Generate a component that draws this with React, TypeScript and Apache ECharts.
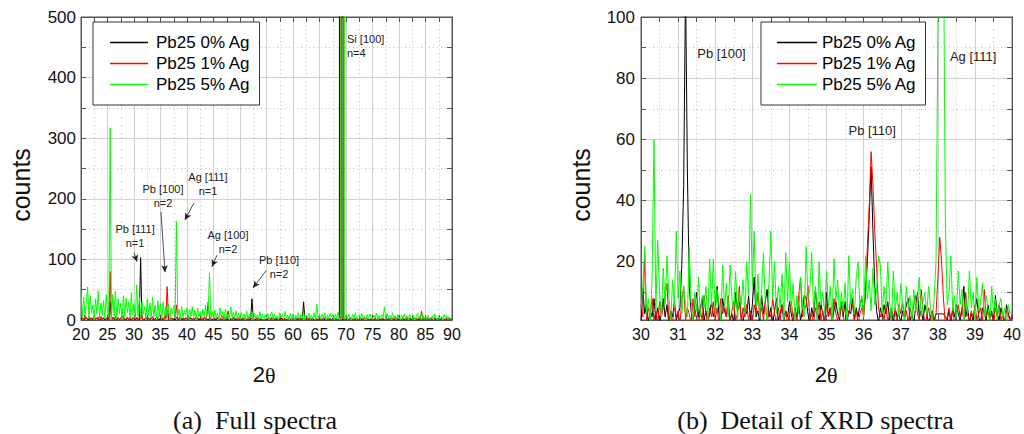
import React, { useEffect, useRef } from 'react';
import * as echarts from 'echarts';

// ---------------- data ----------------
const SERIES_NAMES = ['Pb25 0% Ag', 'Pb25 1% Ag', 'Pb25 5% Ag'];
const SERIES_COLORS = ['#000000', '#ff0000', '#00ff00'];

// Full spectra: 2θ from 20 to 90, one value every 0.25°
const FULL_START = 20;
const FULL_STEP = 0.25;
const full0 = [
  1, 3, 0, 2, 4, 1, 0, 3, 2, 1, 0, 2, 3, 1, 0, 2, 1, 3, 0, 2,
  2, 0, 30, 0, 3, 1, 2, 0, 4, 1, 3, 0, 2, 1, 0, 3, 1, 2, 0, 4,
  2, 0, 3, 1, 0, 103, 2, 1, 0, 3, 1, 2, 0, 4, 1, 0, 2, 3, 1, 0,
  3, 1, 0, 2, 4, 15, 1, 0, 3, 2, 1, 0, 4, 2, 1, 3, 0, 2, 1, 4,
  1, 0, 2, 3, 1, 0, 2, 1, 3, 0, 2, 1, 0, 4, 1, 2, 0, 3, 1, 0,
  2, 1, 0, 3, 1, 2, 0, 1, 3, 0, 2, 1, 0, 2, 1, 3, 0, 1, 2, 0,
  1, 2, 0, 3, 1, 0, 2, 1, 0, 35, 2, 0, 1, 3, 0, 2, 1, 0, 2, 1,
  0, 2, 1, 0, 3, 1, 2, 0, 1, 2, 0, 3, 1, 0, 2, 1, 0, 2, 1, 3,
  1, 0, 2, 1, 3, 0, 2, 1, 30, 0, 2, 1, 0, 3, 1, 2, 0, 1, 2, 0,
  2, 0, 1, 3, 0, 2, 1, 0, 2, 1, 3, 0, 2, 1, 0, 2, 9000, 1, 0, 2,
  1, 2, 0, 3, 1, 0, 2, 1, 3, 0, 1, 2, 0, 1, 3, 0, 2, 1, 0, 2,
  0, 1, 2, 0, 3, 1, 0, 2, 1, 0, 3, 1, 2, 0, 1, 2, 0, 1, 3, 0,
  2, 0, 1, 3, 0, 2, 1, 0, 2, 1, 0, 3, 1, 2, 0, 1, 2, 0, 1, 2,
  1, 0, 2, 1, 3, 0, 1, 2, 0, 1, 2, 0, 3, 1, 0, 2, 1, 4, 0, 2,
  1,
];
const full1 = [
  2, 5, 0, 8, 3, 1, 6, 0, 4, 2, 7, 1, 3, 5, 0, 6, 2, 4, 1, 3,
  4, 0, 80, 0, 5, 2, 6, 1, 3, 0, 4, 2, 7, 0, 3, 5, 1, 4, 0, 2,
  3, 1, 5, 0, 4, 2, 6, 0, 3, 5, 1, 4, 0, 2, 6, 1, 3, 0, 5, 2,
  1, 4, 0, 6, 2, 55, 3, 0, 4, 1, 2, 5, 25, 0, 3, 6, 1, 4, 0, 2,
  3, 0, 5, 2, 1, 4, 0, 6, 2, 3, 1, 5, 0, 4, 2, 7, 30, 3, 1, 2,
  0, 4, 2, 5, 1, 3, 0, 6, 2, 4, 1, 15, 3, 0, 2, 5, 1, 3, 0, 4,
  2, 0, 3, 1, 4, 0, 2, 5, 1, 3, 0, 2, 4, 1, 3, 0, 2, 1, 3, 0,
  1, 3, 0, 2, 4, 1, 0, 3, 2, 1, 4, 0, 2, 3, 1, 0, 2, 4, 1, 2,
  0, 2, 3, 1, 0, 4, 2, 1, 3, 0, 2, 1, 4, 0, 2, 3, 1, 0, 2, 1,
  3, 0, 2, 1, 4, 0, 2, 3, 1, 0, 2, 4, 1, 3, 0, 2, 1, 9000, 0, 3,
  1, 3, 0, 2, 4, 1, 0, 3, 2, 1, 0, 4, 2, 1, 3, 0, 2, 1, 0, 3,
  2, 0, 3, 1, 0, 4, 2, 1, 3, 0, 2, 1, 0, 3, 1, 2, 0, 4, 1, 2,
  7, 1, 0, 3, 2, 1, 4, 0, 2, 3, 1, 0, 2, 4, 1, 3, 0, 15, 1, 3,
  2, 4, 0, 1, 3, 2, 0, 4, 1, 2, 0, 3, 1, 2, 0, 1, 3, 0, 2, 1,
  2,
];
const full5 = [
  45, 3, 38, 8, 30, 55, 2, 40, 12, 25, 0, 35, 10, 48, 4, 28, 8, 32, 2, 42,
  14, 5, 317, 0, 42, 6, 48, 2, 35, 10, 28, 0, 40, 5, 36, 12, 30, 3, 45, 8,
  26, 2, 58, 6, 38, 4, 30, 10, 22, 0, 35, 8, 28, 3, 38, 6, 25, 1, 32, 5,
  28, 2, 30, 7, 22, 4, 26, 0, 20, 10, 24, 3, 163, 6, 18, 2, 22, 5, 16, 8,
  20, 1, 18, 6, 22, 3, 16, 0, 20, 5, 14, 2, 18, 4, 24, 7, 12, 77, 3, 15,
  2, 16, 5, 12, 0, 20, 4, 14, 1, 18, 3, 10, 0, 22, 5, 13, 2, 15, 4, 11,
  1, 12, 3, 10, 0, 15, 2, 9, 4, 13, 0, 11, 3, 8, 1, 14, 2, 10, 0, 9,
  3, 11, 0, 8, 13, 1, 10, 2, 7, 0, 12, 4, 9, 1, 14, 3, 8, 0, 11, 2,
  10, 0, 8, 3, 12, 1, 9, 2, 13, 0, 7, 4, 11, 1, 8, 2, 12, 0, 26, 3,
  9, 1, 10, 3, 12, 0, 8, 2, 11, 4, 9, 0, 10, 2, 13, 1, 6, 9000, 9000, 2,
  8, 1, 10, 3, 0, 9, 2, 12, 0, 6, 8, 1, 11, 3, 7, 0, 9, 2, 10, 4,
  1, 8, 3, 11, 0, 7, 2, 9, 4, 22, 1, 10, 3, 8, 0, 12, 2, 7, 0, 9,
  4, 0, 8, 2, 10, 1, 7, 0, 9, 3, 1, 8, 0, 6, 11, 2, 7, 0, 9, 1,
  6, 0, 8, 2, 1, 7, 0, 10, 3, 0, 8, 1, 6, 0, 9, 2, 7, 0, 5, 1,
  4,
];

// Detail: 2θ from 30 to 40, one value every 0.05°
const DETAIL_START = 30;
const DETAIL_STEP = 0.05;
const detail0 = [
  0, 11, 3, 6, 0, 4, 2, 8, 1, 5, 0, 3, 8, 2, 6, 0, 4, 2, 7, 1,
  3, 5, 19, 45, 110, 50, 12, 4, 0, 6, 10, 2, 5, 8, 1, 4, 0, 3, 7, 2,
  5, 12, 3, 0, 8, 4, 2, 6, 1, 3, 0, 10, 4, 7, 2, 0, 5, 3, 9, 1,
  6, 15, 2, 4, 0, 9, 3, 7, 11, 2, 5, 0, 4, 8, 1, 3, 6, 0, 4, 2,
  7, 3, 0, 5, 2, 6, 1, 4, 9, 8, 3, 0, 5, 2, 11, 4, 1, 6, 3, 0,
  10, 2, 5, 0, 4, 7, 3, 1, 6, 2, 7, 0, 4, 3, 8, 1, 5, 2, 6, 8,
  3, 10, 20, 35, 51, 30, 12, 4, 0, 5, 2, 6, 3, 7, 1, 4, 0, 5, 2, 3,
  0, 4, 2, 6, 8, 1, 3, 0, 5, 10, 2, 4, 1, 6, 3, 0, 2, 4, 1, 3,
  3, 3, 3, 3, 2, 1, 4, 0, 5, 2, 6, 3, 1, 4, 12, 2, 5, 0, 3, 1,
  4, 8, 2, 0, 5, 3, 1, 6, 2, 4, 0, 9, 3, 1, 5, 2, 0, 6, 3, 1,
  2,
];
const detail1 = [
  6, 2, 22, 0, 5, 3, 8, 1, 4, 0, 7, 2, 5, 9, 13, 1, 3, 0, 6, 2,
  4, 0, 7, 12, 1, 5, 3, 0, 8, 2, 6, 0, 4, 1, 9, 3, 0, 5, 2, 7,
  1, 5, 0, 8, 3, 6, 2, 9, 0, 4, 7, 1, 3, 12, 0, 5, 2, 6, 1, 4,
  0, 6, 3, 10, 2, 5, 1, 7, 0, 4, 2, 8, 3, 0, 5, 1, 6, 2, 4, 0,
  3, 7, 1, 5, 0, 9, 15, 2, 4, 6, 12, 1, 3, 0, 5, 2, 7, 1, 4, 0,
  6, 2, 5, 0, 8, 3, 1, 4, 7, 2, 0, 5, 3, 8, 6, 1, 4, 0, 3, 5,
  2, 10, 25, 38, 56, 45, 30, 18, 5, 2, 4, 1, 6, 0, 3, 5, 2, 4, 0, 6,
  3, 7, 1, 4, 0, 5, 2, 6, 9, 3, 1, 11, 4, 0, 2, 5, 1, 3, 0, 3,
  15, 28, 20, 8, 0, 2, 5, 1, 4, 0, 3, 6, 2, 5, 1, 10, 3, 0, 4, 2,
  6, 1, 3, 5, 0, 11, 2, 4, 1, 3, 0, 5, 2, 6, 1, 3, 0, 4, 2, 1,
  3,
];
const detail5 = [
  5, 12, 25, 3, 8, 0, 15, 60, 4, 27, 10, 2, 18, 6, 22, 9, 0, 14, 5, 30,
  8, 17, 3, 12, 6, 2, 25, 7, 0, 10, 4, 15, 2, 9, 5, 12, 0, 21, 6, 21,
  3, 11, 7, 0, 19, 5, 13, 2, 19, 8, 4, 17, 1, 10, 6, 14, 3, 20, 9, 42,
  12, 30, 5, 16, 2, 11, 23, 6, 0, 14, 30, 8, 20, 3, 12, 5, 16, 1, 23, 7,
  20, 4, 13, 0, 9, 3, 15, 6, 2, 25, 8, 11, 23, 4, 12, 0, 20, 6, 10, 3,
  17, 5, 12, 1, 21, 7, 14, 2, 10, 4, 13, 0, 22, 6, 11, 3, 15, 20, 5, 9,
  2, 22, 8, 14, 4, 18, 6, 11, 22, 19, 3, 12, 5, 20, 7, 0, 17, 4, 10, 2,
  13, 6, 1, 12, 5, 9, 0, 11, 4, 8, 15, 2, 7, 10, 3, 12, 5, 0, 8, 20,
  95, 160, 163, 130, 35, 6, 10, 22, 4, 9, 2, 17, 6, 11, 0, 8, 3, 17, 5, 10,
  1, 15, 4, 7, 13, 2, 9, 5, 0, 12, 3, 8, 1, 6, 8, 2, 5, 0, 6, 3,
  4,
];

// axis ranges
const FULL_X = { min: 20, max: 90, interval: 5 };
const FULL_Y = { min: 0, max: 500, interval: 100 };
const DETAIL_X = { min: 30, max: 40, interval: 1 };
const DETAIL_Y = { min: 1, max: 100 };

// peak annotations (data coordinates)
const fullNotes = [
  { name: 'Pb [111]\nn=1', coord: [30.2, 138] },
  { name: 'Pb [100]\nn=2', coord: [35.47, 204] },
  { name: 'Ag [111]\nn=1', coord: [43.96, 224] },
  { name: 'Ag [100]\nn=2', coord: [47.74, 128] },
  { name: 'Pb [110]\nn=2', coord: [57.36, 88] },
];
const siNote = { name: 'Si [100]\nn=4', coord: [70.19, 452] };
const fullArrows = [
  [[30.0, 111], [30.57, 96]],
  [[35.09, 178], [35.85, 79]],
  [[41.3, 193], [39.6, 165]],
  [[45.66, 107], [44.7, 88]],
  [[54.9, 81], [52.45, 53]],
];
const detailNotes = [
  { name: 'Pb [100]', coord: [32.17, 88] },
  { name: 'Pb [110]', coord: [36.23, 63] },
  { name: 'Ag [111]', coord: [38.95, 87] },
];

// ---------------- helpers ----------------
const SANS = '"Liberation Sans", Arial, sans-serif';
const SERIF = '"Liberation Serif", "Times New Roman", serif';

function toPairs(start: number, step: number, ys: number[]) {
  return ys.map((y, i) => [Math.round((start + i * step) * 1000) / 1000, y]);
}

function mainAxis(gridIndex: number, range: any, position: string, labels: boolean, extra: any = {}) {
  return {
    type: 'value',
    gridIndex,
    position,
    ...range,
    axisLine: { show: true, onZero: false, lineStyle: { color: '#555', width: 1 } },
    axisTick: { show: true, inside: true, length: 5, lineStyle: { color: '#555', width: 1 } },
    minorTick: { show: true, splitNumber: 2, length: 5, lineStyle: { color: '#555', width: 1 } },
    axisLabel: labels
      ? { show: true, color: '#111', fontFamily: SANS, ...extra.label }
      : { show: false },
    splitLine: labels
      ? { show: true, lineStyle: { color: '#d0d0d0', width: 1 } }
      : { show: false },
    minorSplitLine: labels
      ? { show: true, lineStyle: { color: '#c2c2c2', width: 1, type: [1, 3] } }
      : { show: false },
    ...extra.rest,
  };
}

function line(name: string, color: string, data: any[], xi: number, yi: number, extra: any = {}) {
  return {
    type: 'line',
    name,
    data,
    xAxisIndex: xi,
    yAxisIndex: yi,
    symbol: 'none',
    showSymbol: false,
    legendIcon: 'rect',
    clip: true,
    silent: true,
    lineStyle: { color, width: 1 },
    itemStyle: { color },
    ...extra,
  };
}

function legendCfg(left: number, itemWidth: number, padLeft: number, textPad: number) {
  return {
    orient: 'vertical',
    left,
    top: 22,
    data: SERIES_NAMES,
    icon: 'rect',
    itemWidth,
    itemHeight: 1.5,
    itemGap: 0,
    padding: [10, 9, 10, padLeft],
    borderColor: '#333',
    borderWidth: 1,
    backgroundColor: '#ffffff',
    selectedMode: false,
    textStyle: {
      fontSize: 17,
      fontFamily: SANS,
      color: '#000',
      lineHeight: 21,
      padding: [0, 0, 0, textPad],
    },
    z: 10,
  };
}

function textEl(x: number, y: number, text: string, size: number, family: string, align: string, rotation = 0) {
  return {
    type: 'text',
    x,
    y,
    rotation,
    style: {
      text,
      fontSize: size,
      fontFamily: family,
      fill: '#111',
      align,
      verticalAlign: 'middle',
      textAlign: align,
      textVerticalAlign: 'middle',
    },
  };
}

export default function App() {
  const ref = useRef<HTMLDivElement>(null);

  useEffect(() => {
    if (!ref.current) return;
    const chart = echarts.init(ref.current, null, { renderer: 'svg' });

    const fullData = [full0, full1, full5].map((ys) => toPairs(FULL_START, FULL_STEP, ys));
    const detailData = [detail0, detail1, detail5].map((ys) => toPairs(DETAIL_START, DETAIL_STEP, ys));

    const fullAnno = {
      markPoint: {
        symbol: 'circle',
        symbolSize: 0,
        silent: true,
        itemStyle: { color: 'transparent' },
        label: {
          show: true,
          position: 'inside',
          formatter: '{b}',
          color: '#222',
          fontSize: 11,
          lineHeight: 14,
          fontFamily: SANS,
          align: 'center',
        },
        data: [
          ...fullNotes.map((n) => ({ name: n.name, coord: n.coord })),
          { name: siNote.name, coord: siNote.coord, label: { align: 'left' } },
        ],
      },
      markLine: {
        silent: true,
        symbol: ['none', 'arrow'],
        symbolSize: [5, 7],
        lineStyle: { color: '#222', width: 0.8, type: 'solid' },
        label: { show: false },
        data: fullArrows.map(([a, b]) => [{ coord: a }, { coord: b }]),
      },
    };
    const detailAnno = {
      markPoint: {
        symbol: 'circle',
        symbolSize: 0,
        silent: true,
        itemStyle: { color: 'transparent' },
        label: {
          show: true,
          position: 'inside',
          formatter: '{b}',
          color: '#222',
          fontSize: 13,
          fontFamily: SANS,
        },
        data: detailNotes.map((n) => ({ name: n.name, coord: n.coord })),
      },
    };

    const option: any = {
      animation: false,
      backgroundColor: '#ffffff',
      grid: [
        { left: 81, top: 17, width: 371, height: 303, show: true, borderColor: '#555', borderWidth: 1 },
        { left: 641, top: 17, width: 373, height: 303, show: true, borderColor: '#555', borderWidth: 1 },
      ],
      xAxis: [
        mainAxis(0, FULL_X, 'bottom', true, { label: { fontSize: 16, margin: 6 } }),
        mainAxis(0, FULL_X, 'top', false),
        mainAxis(1, DETAIL_X, 'bottom', true, { label: { fontSize: 16, margin: 6 } }),
        mainAxis(1, DETAIL_X, 'top', false),
      ],
      yAxis: [
        mainAxis(0, FULL_Y, 'left', true, { label: { fontSize: 17, margin: 5 } }),
        mainAxis(0, FULL_Y, 'right', false),
        mainAxis(1, DETAIL_Y, 'left', true, {
          label: { fontSize: 17, margin: 6, showMinLabel: false },
          rest: { splitNumber: 5 },
        }),
        mainAxis(1, DETAIL_Y, 'right', false, { rest: { splitNumber: 5 } }),
      ],
      legend: [legendCfg(93, 38, 17, 3), legendCfg(761, 40, 16, 0)],
      series: [
        line(SERIES_NAMES[0], SERIES_COLORS[0], fullData[0], 0, 0, fullAnno),
        line(SERIES_NAMES[1], SERIES_COLORS[1], fullData[1], 0, 0),
        line(SERIES_NAMES[2], SERIES_COLORS[2], fullData[2], 0, 0),
        line(SERIES_NAMES[0], SERIES_COLORS[0], detailData[0], 2, 2, detailAnno),
        line(SERIES_NAMES[1], SERIES_COLORS[1], detailData[1], 2, 2),
        line(SERIES_NAMES[2], SERIES_COLORS[2], detailData[2], 2, 2),
      ],
      graphic: [
        textEl(21, 185, 'counts', 25, SANS, 'center', Math.PI / 2),
        textEl(581, 185, 'counts', 25, SANS, 'center', Math.PI / 2),
        textEl(265, 374, '2', 22, SANS, 'right'),
        textEl(265, 375, 'θ', 22, SERIF, 'left'),
        textEl(827, 374, '2', 22, SANS, 'right'),
        textEl(827, 375, 'θ', 22, SERIF, 'left'),
        textEl(255, 420, '(a)\u00a0\u00a0Full spectra', 26, SERIF, 'center'),
        textEl(815.5, 420, '(b)\u00a0\u00a0Detail of XRD spectra', 26, SERIF, 'center'),
      ],
    };

    chart.setOption(option);
    return () => chart.dispose();
  }, []);

  return (
    <div
      ref={ref}
      style={{ position: 'absolute', left: 0, top: 0, width: 1024, height: 434, background: '#fff' }}
    />
  );
}
